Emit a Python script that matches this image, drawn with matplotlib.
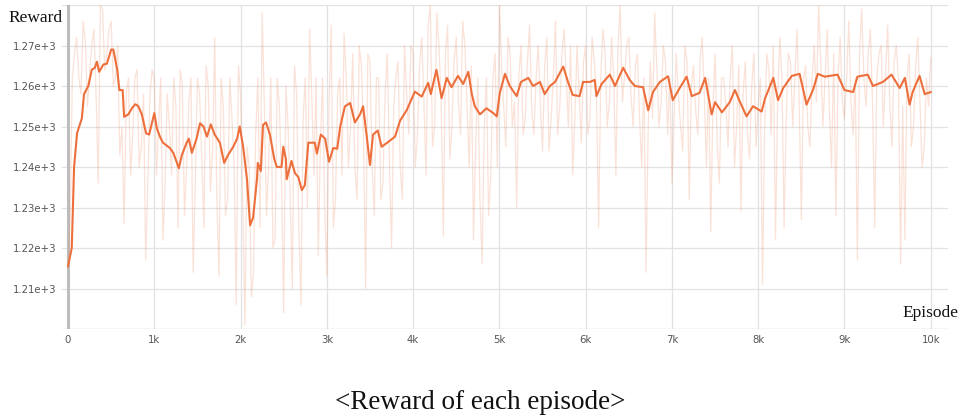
import matplotlib
matplotlib.use("Agg")
import matplotlib.pyplot as plt

# Smoothed reward curve (episode, value)
smooth_ep = [0, 43, 70, 105, 160, 185, 235, 275, 310, 335, 360, 410, 450, 500, 525, 570, 595, 633, 650,
             700, 740, 780, 815, 855, 905, 940, 1000, 1030, 1065, 1100, 1180, 1220, 1285, 1320, 1375,
             1400, 1435, 1490, 1530, 1570, 1610, 1655, 1700, 1760, 1810, 1855, 1915, 1960, 1990, 2030,
             2075, 2110, 2145, 2190, 2200, 2235, 2260, 2295, 2340, 2390, 2420, 2475, 2495, 2525, 2535,
             2590, 2630, 2670, 2710, 2745, 2785, 2860, 2885, 2930, 2980, 3025, 3075, 3120, 3155, 3210,
             3270, 3325, 3385, 3420, 3460, 3500, 3535, 3590, 3635, 3700, 3790, 3850, 3925, 4020, 4100,
             4175, 4205, 4270, 4330, 4390, 4445, 4520, 4580, 4640, 4680, 4715, 4775, 4850, 4930, 4970,
             5005, 5065, 5120, 5200, 5250, 5335, 5390, 5470, 5525, 5585, 5645, 5740, 5795, 5850, 5930,
             5970, 6050, 6105, 6125, 6185, 6280, 6340, 6435, 6510, 6570, 6665, 6725, 6780, 6860, 6955,
             7010, 7090, 7170, 7230, 7320, 7385, 7460, 7500, 7580, 7670, 7730, 7790, 7865, 7940, 8040,
             8080, 8175, 8230, 8290, 8390, 8480, 8560, 8635, 8690, 8770, 8865, 8920, 9000, 9100, 9150,
             9270, 9330, 9445, 9545, 9640, 9700, 9755, 9790, 9870, 9930, 10000]
smooth_val = [1215.5, 1220, 1240, 1248.4, 1252, 1258, 1260, 1264, 1264.5, 1266, 1263.5, 1265.3, 1265.5,
              1269, 1269, 1264, 1259, 1259, 1252.4, 1253, 1254.5, 1255.5, 1255, 1253, 1248.3, 1248,
              1253.3, 1249.5, 1247.5, 1246, 1244.7, 1243.5, 1239.7, 1243, 1246, 1247, 1243.5, 1247,
              1250.8, 1250, 1247.5, 1250.5, 1248, 1246, 1241, 1243, 1245, 1247, 1250, 1245, 1236.8,
              1225.6, 1227.5, 1237, 1241, 1239, 1250.4, 1251, 1248, 1242, 1240, 1240, 1245, 1242, 1237,
              1241.5, 1238.5, 1237.5, 1234.3, 1235.5, 1246, 1246, 1243.3, 1248, 1247, 1241.3, 1244.7,
              1244.5, 1250, 1255, 1255.8, 1251, 1253, 1255, 1248, 1240.5, 1248, 1249, 1245, 1246, 1247.5,
              1251.5, 1254, 1258.6, 1257.4, 1260.8, 1258, 1264, 1257, 1262, 1259.7, 1262.5, 1260.5,
              1263.5, 1258, 1255, 1253, 1254.5, 1253.3, 1252.5, 1258.3, 1263, 1260, 1257.5, 1261, 1262,
              1260, 1261, 1258, 1260, 1261, 1264.8, 1261, 1257.8, 1257.5, 1261, 1261, 1261.5, 1257.5,
              1260.5, 1262.8, 1260, 1264.5, 1261.5, 1260, 1259.7, 1254, 1258.5, 1261, 1262.4, 1256.5,
              1259.5, 1262.3, 1257.5, 1258.3, 1262, 1253, 1256, 1253.5, 1256, 1259, 1256, 1252.5, 1255,
              1253.7, 1257, 1262, 1256.5, 1259.5, 1262.5, 1263, 1255.4, 1259, 1263, 1262.3, 1262.6,
              1262.8, 1259, 1258.5, 1262.3, 1262.8, 1260, 1261, 1262.8, 1259.5, 1262, 1255.4, 1258.5,
              1262.5, 1258, 1258.5]

# Raw reward at episodes 0, 50, 100, ...
raw_val = [
    1215, 1262, 1272, 1258, 1271, 1263, 1274, 1236, 1279, 1268,
    1276, 1262, 1243, 1226, 1262, 1248, 1264, 1245, 1217, 1258,
    1262, 1250, 1222, 1258, 1238, 1255, 1264, 1228, 1256, 1214,
    1262, 1242, 1265, 1234, 1272, 1213, 1255, 1232, 1252, 1206,
    1258, 1201, 1240, 1214, 1262, 1278, 1228, 1262, 1222, 1255,
    1204, 1250, 1210, 1258, 1206, 1262, 1274, 1238, 1218, 1262,
    1213, 1275, 1232, 1262, 1273, 1240, 1268, 1232, 1265, 1210,
    1266, 1228, 1262, 1236, 1268, 1220, 1262, 1240, 1270, 1248,
    1268, 1248, 1272, 1238, 1280, 1250, 1270, 1223, 1275, 1250,
    1272, 1248, 1270, 1240, 1222, 1262, 1216, 1262, 1238, 1268,
    1280, 1255, 1272, 1250, 1230, 1270, 1252, 1275, 1248, 1270,
    1244, 1272, 1252, 1276, 1255, 1274, 1250, 1238, 1270, 1246,
    1270, 1252, 1266, 1225, 1274, 1250, 1272, 1238, 1280, 1262,
    1272, 1250, 1268, 1240, 1214, 1266, 1278, 1250, 1270, 1248,
    1236, 1268, 1250, 1270, 1232, 1265, 1248, 1272, 1240, 1224,
    1268, 1236, 1262, 1245, 1270, 1250, 1229, 1266, 1242, 1268,
    1255, 1211, 1268, 1248, 1222, 1272, 1225, 1268, 1250, 1274,
    1227, 1265, 1245, 1270, 1280, 1250, 1274, 1240, 1228, 1272,
    1252, 1276, 1248, 1217, 1279, 1255, 1274, 1225, 1268, 1250,
    1275, 1245, 1270, 1216, 1222, 1268, 1250, 1272, 1240, 1262,
    1267]

# Raw reward at episodes 25, 75, 125, ...
raw_mid = [
    1228, 1268, 1262, 1276, 1255, 1270, 1258, 1280, 1264, 1274,
    1260, 1270, 1250, 1258, 1238, 1262, 1240, 1258, 1236, 1264,
    1238, 1262, 1236, 1250, 1262, 1225, 1260, 1240, 1262, 1236,
    1258, 1225, 1260, 1244, 1232, 1262, 1228, 1262, 1240, 1265,
    1232, 1245, 1208, 1248, 1225, 1256, 1240, 1220, 1262, 1236,
    1260, 1232, 1265, 1225, 1252, 1230, 1258, 1262, 1246, 1230,
    1255, 1225, 1258, 1238, 1262, 1250, 1240, 1270, 1248, 1268,
    1240, 1262, 1232, 1258, 1242, 1255, 1266, 1232, 1258, 1270,
    1240, 1265, 1256, 1275, 1245, 1278, 1256, 1268, 1242, 1266,
    1256, 1276, 1255, 1265, 1245, 1232, 1250, 1228, 1262, 1240,
    1266, 1245, 1268, 1256, 1262, 1248, 1266, 1254, 1262, 1255,
    1265, 1244, 1262, 1248, 1268, 1262, 1270, 1252, 1258, 1266,
    1248, 1272, 1258, 1262, 1268, 1256, 1262, 1270, 1256, 1270,
    1258, 1265, 1252, 1262, 1250, 1252, 1264, 1256, 1266, 1262,
    1252, 1258, 1244, 1266, 1260, 1254, 1266, 1258, 1262, 1255,
    1245, 1262, 1255, 1262, 1240, 1265, 1258, 1248, 1260, 1245,
    1262, 1250, 1264, 1270, 1256, 1262, 1252, 1266, 1262, 1256,
    1262, 1250, 1262, 1256, 1266, 1262, 1254, 1268, 1262, 1256,
    1262, 1256, 1262, 1268, 1262, 1268, 1256, 1262, 1270, 1262,
    1256, 1266, 1262, 1255, 1262, 1245, 1265, 1256, 1245, 1255]

raw_ep = list(range(0, 10001, 25))
raw_all = []
for i in range(len(raw_mid)):
    raw_all.append(raw_val[i])
    raw_all.append(raw_mid[i])
raw_all.append(raw_val[-1])

y_ticks = [1210, 1220, 1230, 1240, 1250, 1260, 1270]
y_labels = ["1.21e+3", "1.22e+3", "1.23e+3", "1.24e+3", "1.25e+3", "1.26e+3", "1.27e+3"]
x_ticks = [0, 1000, 2000, 3000, 4000, 5000, 6000, 7000, 8000, 9000, 10000]
x_labels = ["0", "1k", "2k", "3k", "4k", "5k", "6k", "7k", "8k", "9k", "10k"]

orange = "#ec6f3c"
grid_c = "#e2e2e2"

fig = plt.figure(figsize=(9.6, 4.19), dpi=100)
ax = fig.add_axes([62 / 960, 1 - 329 / 419, 886 / 960, 324 / 419])
ax.set_xlim(-70, 10200)
ax.set_ylim(1200, 1280)

for s in ax.spines.values():
    s.set_visible(False)

ax.set_yticks(y_ticks)
ax.set_yticklabels(y_labels)
ax.set_xticks(x_ticks)
ax.set_xticklabels(x_labels)
ax.tick_params(length=0, labelsize=7.3, colors="#555555", pad=4)
ax.grid(True, color=grid_c, linewidth=0.9)
ax.axhline(1200, color="#d6d6d6", linewidth=1.0, zorder=1)
ax.axhline(1280, color=grid_c, linewidth=0.9, zorder=1)
ax.axvline(0, color="#bdbdbd", linewidth=2.2, zorder=1)
ax.set_axisbelow(True)

ax.plot(raw_ep, raw_all, color=orange, alpha=0.2, linewidth=0.9, zorder=2)
ax.plot(smooth_ep, smooth_val, color=orange, linewidth=1.5, zorder=3)

serif = ["Liberation Serif", "DejaVu Serif"]
fig.text(8 / 960, 1 - 18 / 419, "Reward", family=serif, fontsize=12.5, ha="left", va="center", color="#111111")
fig.text(958 / 960, 1 - 313 / 419, "Episode", family=serif, fontsize=12.5, ha="right", va="center", color="#111111")
fig.text(0.5, 1 - 402 / 419, "<Reward of each episode>", family=serif, fontsize=19.5, ha="center", va="center", color="#111111")

fig.savefig("out.png", dpi=100)
